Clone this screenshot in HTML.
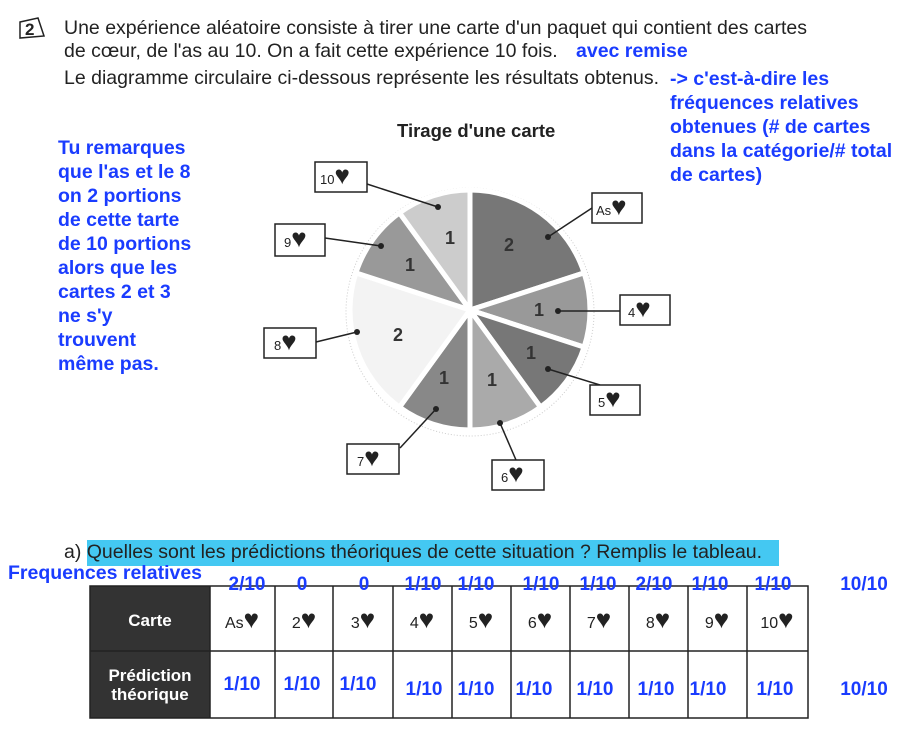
<!DOCTYPE html>
<html><head><meta charset="utf-8"><style>
body{margin:0;width:910px;height:732px;background:#fff;position:relative;overflow:hidden;font-family:"Liberation Sans",Arial,sans-serif}
.t{position:absolute;font-size:19.5px;color:#222;white-space:nowrap}
.b{position:absolute;color:#1a3cff;font-weight:bold;font-size:19.5px;line-height:24px;white-space:nowrap}
</style></head><body>
<svg width="910" height="732" style="position:absolute;left:0;top:0" font-family="Liberation Sans, Arial, sans-serif">
<path d="M20 22 L38 18 L44 36 L20 38 Z" fill="none" stroke="#222" stroke-width="1.5"/>
<text x="25" y="35" font-size="17" font-weight="bold" fill="#222">2</text>
<circle cx="470" cy="312" r="124" fill="none" stroke="#ccc" stroke-dasharray="1 2"/>
<g stroke="#fff" stroke-width="5" stroke-linejoin="round">
<path d="M470 310 L470 190 A120 120 0 0 1 584.1 272.9 Z" fill="#777"/>
<path d="M470 310 L584.1 272.9 A120 120 0 0 1 584.1 347.1 Z" fill="#999"/>
<path d="M470 310 L584.1 347.1 A120 120 0 0 1 540.5 407.1 Z" fill="#777"/>
<path d="M470 310 L540.5 407.1 A120 120 0 0 1 470 430 Z" fill="#aaa"/>
<path d="M470 310 L470 430 A120 120 0 0 1 399.5 407.1 Z" fill="#888"/>
<path d="M470 310 L399.5 407.1 A120 120 0 0 1 355.9 272.9 Z" fill="#f3f3f3"/>
<path d="M470 310 L355.9 272.9 A120 120 0 0 1 399.5 212.9 Z" fill="#999"/>
<path d="M470 310 L399.5 212.9 A120 120 0 0 1 470 190 Z" fill="#ccc"/>
</g>
<g font-size="18" font-weight="bold" fill="#333" text-anchor="middle">
<text x="509" y="251">2</text><text x="450" y="244">1</text><text x="410" y="271">1</text>
<text x="539" y="316">1</text><text x="398" y="341">2</text><text x="531" y="359">1</text>
<text x="492" y="386">1</text><text x="444" y="384">1</text>
</g>
<g stroke="#222" stroke-width="1.5" fill="none">
<line x1="367" y1="184" x2="438" y2="207"/><line x1="592" y1="208" x2="548" y2="237"/>
<line x1="325" y1="238" x2="381" y2="246"/><line x1="620" y1="311" x2="558" y2="311"/>
<line x1="316" y1="342" x2="357" y2="332"/><line x1="600" y1="385" x2="548" y2="369"/>
<line x1="400" y1="448" x2="436" y2="409"/><line x1="516" y1="460" x2="500" y2="423"/>
</g>
<g fill="#222"><circle cx="438" cy="207" r="3"/><circle cx="548" cy="237" r="3"/><circle cx="381" cy="246" r="3"/><circle cx="558" cy="311" r="3"/><circle cx="357" cy="332" r="3"/><circle cx="548" cy="369" r="3"/><circle cx="436" cy="409" r="3"/><circle cx="500" cy="423" r="3"/></g>
<g fill="#fff" stroke="#222" stroke-width="1.5">
<rect x="315" y="162" width="52" height="30"/><rect x="592" y="193" width="50" height="30"/>
<rect x="275" y="224" width="50" height="32"/><rect x="620" y="295" width="50" height="30"/>
<rect x="264" y="328" width="52" height="30"/><rect x="590" y="385" width="50" height="30"/>
<rect x="347" y="444" width="52" height="30"/><rect x="492" y="460" width="52" height="30"/>
</g>
<g font-size="13" fill="#222">
<text x="320" y="184">10<tspan font-size="26">♥</tspan></text><text x="596" y="215">As<tspan font-size="26">♥</tspan></text>
<text x="284" y="247">9<tspan font-size="26">♥</tspan></text><text x="628" y="317">4<tspan font-size="26">♥</tspan></text>
<text x="274" y="350">8<tspan font-size="26">♥</tspan></text><text x="598" y="407">5<tspan font-size="26">♥</tspan></text>
<text x="357" y="466">7<tspan font-size="26">♥</tspan></text><text x="501" y="482">6<tspan font-size="26">♥</tspan></text>
</g>
<rect x="87" y="540" width="692" height="26" fill="#44c8f2"/>
<rect x="90" y="586" width="120" height="132" fill="#333"/>
<g stroke="#222" stroke-width="1.5" fill="none">
<rect x="90" y="586" width="718" height="132"/>
<line x1="90" y1="651" x2="808" y2="651"/>
<line x1="210" y1="586" x2="210" y2="718"/><line x1="275" y1="586" x2="275" y2="718"/><line x1="333" y1="586" x2="333" y2="718"/><line x1="393" y1="586" x2="393" y2="718"/><line x1="452" y1="586" x2="452" y2="718"/><line x1="511" y1="586" x2="511" y2="718"/><line x1="570" y1="586" x2="570" y2="718"/><line x1="629" y1="586" x2="629" y2="718"/><line x1="688" y1="586" x2="688" y2="718"/><line x1="747" y1="586" x2="747" y2="718"/>
</g>
<g fill="#fff" font-weight="bold" font-size="17" text-anchor="middle">
<text x="150" y="626">Carte</text><text x="150" y="681">Prédiction</text><text x="150" y="700">théorique</text>
</g>
<g font-size="16" fill="#222" text-anchor="middle">
<text x="242" y="628">As<tspan font-size="26">♥</tspan></text><text x="304" y="628">2<tspan font-size="26">♥</tspan></text><text x="363" y="628">3<tspan font-size="26">♥</tspan></text><text x="422" y="628">4<tspan font-size="26">♥</tspan></text><text x="481" y="628">5<tspan font-size="26">♥</tspan></text><text x="540" y="628">6<tspan font-size="26">♥</tspan></text><text x="599" y="628">7<tspan font-size="26">♥</tspan></text><text x="658" y="628">8<tspan font-size="26">♥</tspan></text><text x="717" y="628">9<tspan font-size="26">♥</tspan></text><text x="777" y="628">10<tspan font-size="26">♥</tspan></text>
</g>
<g font-size="19" fill="#1a3cff" font-weight="bold" text-anchor="middle">
<text x="247" y="590">2/10</text><text x="302" y="590">0</text><text x="364" y="590">0</text><text x="423" y="590">1/10</text><text x="476" y="590">1/10</text><text x="541" y="590">1/10</text><text x="598" y="590">1/10</text><text x="654" y="590">2/10</text><text x="710" y="590">1/10</text><text x="773" y="590">1/10</text><text x="864" y="590">10/10</text>
<text x="242" y="690">1/10</text><text x="302" y="690">1/10</text><text x="358" y="690">1/10</text><text x="424" y="695">1/10</text><text x="476" y="695">1/10</text><text x="534" y="695">1/10</text><text x="595" y="695">1/10</text><text x="656" y="695">1/10</text><text x="708" y="695">1/10</text><text x="775" y="695">1/10</text><text x="864" y="695">10/10</text>
</g>
</svg>
<div class="t" style="left:64px;top:17px">Une expérience aléatoire consiste à tirer une carte d'un paquet qui contient des cartes</div>
<div class="t" style="left:64px;top:40px">de cœur, de l'as au 10. On a fait cette expérience 10 fois.</div>
<div class="b" style="left:576px;top:39px">avec remise</div>
<div class="t" style="left:64px;top:67px">Le diagramme circulaire ci-dessous représente les résultats obtenus.</div>
<div class="b" style="left:670px;top:67px">-&gt; c'est-à-dire les<br>fréquences relatives<br>obtenues (# de cartes<br>dans la catégorie/# total<br>de cartes)</div>
<div class="t" style="left:397px;top:120px;font-weight:bold;font-size:18.5px">Tirage d'une carte</div>
<div class="b" style="left:58px;top:136px">Tu remarques<br>que l'as et le 8<br>on 2 portions<br>de cette tarte<br>de 10 portions<br>alors que les<br>cartes 2 et 3<br>ne s'y<br>trouvent<br>même pas.</div>
<div class="t" style="left:64px;top:541px">a) Quelles sont les prédictions théoriques de cette situation ? Remplis le tableau.</div>
<div class="b" style="left:8px;top:561px">Frequences relatives</div>
</body></html>
